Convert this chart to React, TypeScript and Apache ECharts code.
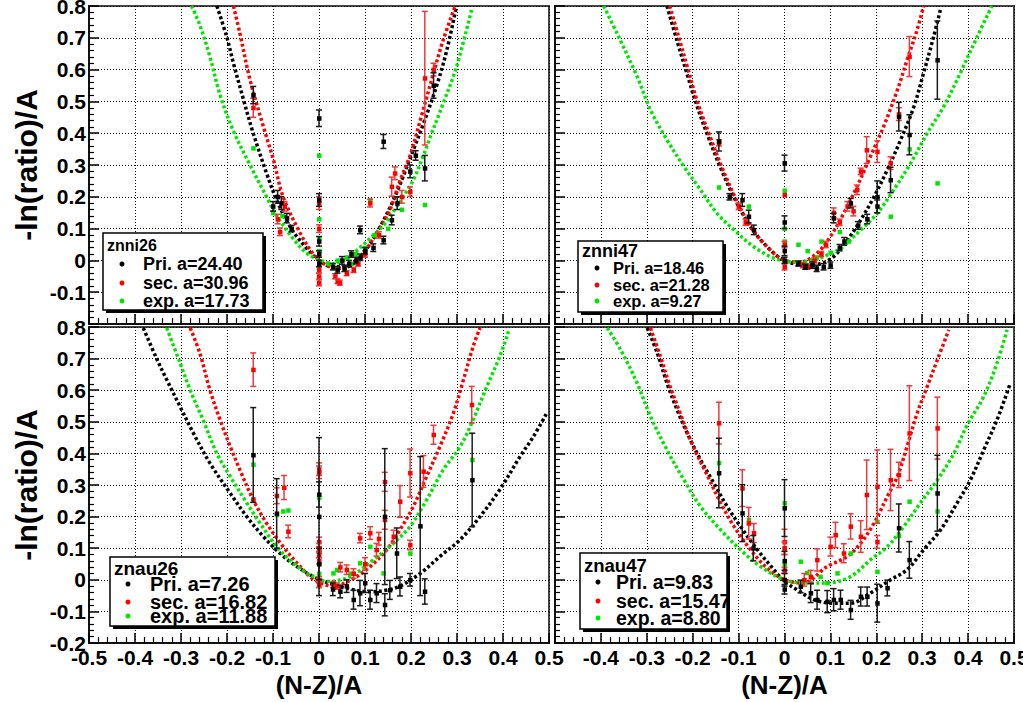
import React, { useEffect, useRef } from "react";
import * as echarts from "echarts";

const FONT = "Liberation Sans, Arial, sans-serif";
const BLACK = "#000000";
const RED = "#ff0000";
const GREEN = "#00e600";

// x ticks / y ticks
const xRange = [-0.5, 0.5];
const yRange = [-0.2, 0.8];

// ---------- Panel 1: znni26 ----------
const p1Name = "znni26";
const p1Labels = ["Pri. a=24.40", "sec. a=30.96", "exp. a=17.73"];
const p1PriCurve = [[-0.222,0.8],[-0.2,0.7],[-0.186,0.62],[-0.165,0.51],[-0.143,0.4],[-0.114,0.274],[-0.092,0.19],[-0.063,0.106],[-0.027,0.038],[0,0.0],[0.03,-0.02],[0.06,-0.02],[0.09,0.01],[0.11,0.05],[0.133,0.106],[0.162,0.19],[0.183,0.264],[0.205,0.347],[0.227,0.43],[0.256,0.55],[0.278,0.662],[0.299,0.8]];
const p1SecCurve = [[-0.186,0.8],[-0.172,0.714],[-0.15,0.568],[-0.121,0.421],[-0.099,0.316],[-0.078,0.2],[-0.041,0.086],[-0.015,0.025],[0.01,-0.01],[0.04,-0.025],[0.07,-0.015],[0.1,0.03],[0.125,0.086],[0.154,0.159],[0.176,0.25],[0.198,0.33],[0.22,0.44],[0.249,0.589],[0.27,0.693],[0.296,0.8]];
const p1ExpCurve = [[-0.277,0.8],[-0.259,0.74],[-0.237,0.64],[-0.215,0.52],[-0.187,0.41],[-0.15,0.3],[-0.114,0.2],[-0.092,0.14],[-0.056,0.068],[-0.027,0.023],[0,0.002],[0.03,-0.01],[0.06,0.005],[0.089,0.04],[0.115,0.075],[0.14,0.11],[0.162,0.155],[0.183,0.2],[0.205,0.253],[0.227,0.33],[0.241,0.385],[0.27,0.494],[0.299,0.609],[0.332,0.79]];
const p1PriPts = [[-0.143,0.52,0.027],[-0.1,0.17,0.015],[-0.09,0.2,0.02],[-0.082,0.18,0.02],[-0.07,0.133,0.015],[-0.06,0.1,0.01],[0,0.447,0.026],[0,0.19,0.02],[0,0.06,0.015],[0,0.02,0.01],[0,-0.01,0.01],[0.03,-0.02,0.01],[0.04,-0.03,0.01],[0.05,0.0,0.012],[0.055,-0.025,0.01],[0.065,-0.01,0.01],[0.07,0.02,0.01],[0.08,0.0,0.01],[0.09,0.01,0.01],[0.089,0.096,0.012],[0.1,0.03,0.01],[0.118,0.04,0.012],[0.14,0.064,0.012],[0.14,0.374,0.022],[0.158,0.127,0.015],[0.17,0.18,0.02],[0.198,0.28,0.02],[0.21,0.33,0.015],[0.23,0.29,0.04],[0.249,0.55,0.04]];
const p1SecPts = [[-0.143,0.48,0.03],[-0.09,0.13,0.015],[-0.085,0.09,0.012],[-0.075,0.17,0.015],[0,0.18,0.02],[0,0.1,0.012],[0,-0.03,0.01],[0,-0.05,0.01],[0,-0.07,0.01],[0.035,-0.05,0.008],[0.04,-0.065,0.008],[0.045,-0.07,0.008],[0.06,-0.04,0.008],[0.075,-0.03,0.008],[0.085,-0.01,0.008],[0.1,0.02,0.01],[0.111,0.18,0.012],[0.13,0.08,0.01],[0.158,0.232,0.03],[0.165,0.274,0.02],[0.18,0.2,0.02],[0.198,0.216,0.015],[0.23,0.573,0.21],[0.249,0.6,0.02]];
const p1ExpPts = [[-0.143,0.353,0],[-0.1,0.15,0],[-0.08,0.14,0],[0,0.33,0],[0,0.13,0],[0,0.07,0],[0,0.03,0],[0.02,-0.01,0],[0.04,0.0,0],[0.06,0.01,0],[0.07,-0.01,0],[0.08,0.02,0],[0.1,0.04,0],[0.111,0.19,0],[0.12,0.08,0],[0.15,0.1,0],[0.18,0.16,0],[0.23,0.175,0]];

// ---------- Panel 2: znni47 ----------
const p2Name = "znni47";
const p2Labels = ["Pri. a=18.46", "sec. a=21.28", "exp. a=9.27"];
const p2PriCurve = [[-0.256,0.8],[-0.234,0.69],[-0.212,0.585],[-0.194,0.5],[-0.168,0.395],[-0.139,0.29],[-0.11,0.198],[-0.074,0.106],[-0.038,0.043],[0,0.0],[0.049,-0.015],[0.08,-0.01],[0.107,0.012],[0.137,0.064],[0.166,0.127],[0.195,0.2],[0.224,0.285],[0.253,0.379],[0.282,0.484],[0.303,0.589],[0.325,0.704],[0.34,0.79]];
const p2SecCurve = [[-0.25,0.8],[-0.23,0.7],[-0.21,0.6],[-0.19,0.5],[-0.165,0.4],[-0.137,0.295],[-0.108,0.2],[-0.074,0.106],[-0.038,0.043],[0,0.0],[0.035,-0.005],[0.071,0.023],[0.1,0.075],[0.129,0.148],[0.158,0.232],[0.187,0.326],[0.216,0.421],[0.246,0.536],[0.267,0.63],[0.289,0.725],[0.303,0.8]];
const p2ExpCurve = [[-0.394,0.8],[-0.365,0.714],[-0.321,0.578],[-0.292,0.473],[-0.256,0.379],[-0.219,0.295],[-0.183,0.222],[-0.147,0.148],[-0.11,0.096],[-0.067,0.043],[-0.023,0.007],[0.02,-0.005],[0.06,0.0],[0.09,0.015],[0.122,0.038],[0.166,0.096],[0.202,0.148],[0.238,0.222],[0.275,0.306],[0.311,0.4],[0.347,0.484],[0.383,0.589],[0.42,0.704],[0.452,0.8]];
const p2PriPts = [[-0.143,0.374,0.03],[-0.12,0.2,0.01],[-0.092,0.19,0.02],[-0.078,0.138,0.02],[-0.067,0.096,0.015],[0,0.306,0.025],[0,0.12,0.02],[0,0.03,0.015],[0,0.0,0.01],[0.03,-0.01,0.008],[0.045,-0.02,0.008],[0.06,-0.015,0.01],[0.07,-0.025,0.01],[0.085,-0.02,0.01],[0.1,-0.015,0.01],[0.107,0.133,0.015],[0.12,0.04,0.01],[0.13,0.06,0.012],[0.144,0.18,0.015],[0.16,0.11,0.012],[0.18,0.13,0.015],[0.202,0.2,0.05],[0.202,0.17,0.02],[0.231,0.253,0.04],[0.249,0.452,0.045],[0.272,0.395,0.063],[0.333,0.63,0.123]];
const p2SecPts = [[-0.143,0.37,0.01],[-0.1,0.17,0.01],[-0.085,0.12,0.01],[0,0.206,0],[0,0.05,0.01],[0,-0.02,0.01],[0.04,-0.015,0.008],[0.05,-0.02,0.008],[0.065,0.0,0.008],[0.08,0.02,0.008],[0.09,0.05,0.01],[0.107,0.15,0.015],[0.12,0.12,0.01],[0.137,0.17,0.015],[0.15,0.155,0.015],[0.158,0.222,0.015],[0.166,0.28,0.01],[0.179,0.347,0.042],[0.202,0.342,0.034],[0.231,0.306,0.02],[0.249,0.46,0.02],[0.272,0.641,0.063]];
const p2ExpPts = [[-0.143,0.23,0],[-0.078,0.17,0],[0,0.22,0],[0,0.1,0],[0,0.06,0],[0.03,0.05,0],[0.05,0.03,0],[0.06,0.0,0],[0.07,0.01,0],[0.08,0.06,0],[0.1,0.025,0],[0.12,0.09,0],[0.14,0.06,0],[0.231,0.138,0],[0.272,0.35,0],[0.333,0.243,0]];

// ---------- Panel 3: znau26 ----------
const p3Name = "znau26";
const p3Labels = ["Pri. a=7.26", "sec. a=16.82", "exp. a=11.88"];
const p3PriCurve = [[-0.382,0.797],[-0.353,0.7],[-0.331,0.633],[-0.302,0.548],[-0.273,0.464],[-0.237,0.369],[-0.193,0.274],[-0.157,0.2],[-0.121,0.137],[-0.085,0.084],[-0.048,0.042],[-0.012,0.01],[0.03,-0.015],[0.07,-0.03],[0.11,-0.038],[0.15,-0.032],[0.176,-0.02],[0.22,0.02],[0.263,0.074],[0.307,0.127],[0.35,0.2],[0.393,0.285],[0.437,0.39],[0.466,0.453],[0.495,0.527]];
const p3SecCurve = [[-0.28,0.797],[-0.259,0.717],[-0.237,0.6],[-0.215,0.506],[-0.193,0.422],[-0.172,0.348],[-0.143,0.253],[-0.114,0.179],[-0.078,0.105],[-0.041,0.042],[-0.01,0.0],[0.031,-0.02],[0.07,0.0],[0.11,0.04],[0.147,0.095],[0.176,0.158],[0.205,0.232],[0.234,0.327],[0.263,0.422],[0.292,0.527],[0.314,0.633],[0.335,0.738],[0.35,0.797]];
const p3ExpCurve = [[-0.331,0.797],[-0.302,0.686],[-0.28,0.6],[-0.252,0.506],[-0.222,0.4],[-0.193,0.327],[-0.157,0.243],[-0.128,0.179],[-0.092,0.105],[-0.056,0.053],[-0.02,0.016],[0.02,-0.005],[0.067,0.01],[0.118,0.063],[0.162,0.116],[0.198,0.169],[0.234,0.253],[0.27,0.348],[0.307,0.422],[0.335,0.506],[0.365,0.612],[0.393,0.707],[0.412,0.786]];
const p3PriPts = [[-0.143,0.395,0.15],[-0.092,0.21,0.11],[0,0.2,0.25],[0,0.27,0.04],[0,0.05,0.05],[0.03,-0.03,0.02],[0.046,-0.037,0.02],[0.06,-0.02,0.02],[0.075,-0.063,0.03],[0.089,-0.042,0.04],[0.1,-0.01,0.03],[0.111,-0.063,0.03],[0.125,-0.042,0.03],[0.143,0.2,0.215],[0.143,-0.079,0.035],[0.154,-0.032,0.03],[0.169,0.084,0.08],[0.176,-0.021,0.03],[0.198,0.0,0.02],[0.22,0.17,0.22],[0.23,-0.037,0.04],[0.333,0.316,0.148]];
const p3SecPts = [[-0.143,0.665,0.053],[-0.143,0.255,0],[-0.092,0.266,0.025],[-0.076,0.292,0.038],[-0.067,0.153,0.02],[0,0.35,0.02],[0,0.34,0.02],[0,0.12,0.015],[0,0.1,0.015],[0,0.08,0.01],[0,0.06,0.01],[0,0.0,0.01],[0,-0.015,0.01],[0.031,-0.015,0.01],[0.039,-0.02,0.01],[0.046,0.04,0.015],[0.06,0.032,0.015],[0.075,0.02,0.015],[0.089,0.132,0.015],[0.1,0.05,0.02],[0.111,0.148,0.02],[0.125,0.095,0.02],[0.13,0.13,0.02],[0.143,0.31,0.03],[0.143,0.19,0.03],[0.162,0.137,0.02],[0.176,0.248,0.05],[0.198,0.338,0.076],[0.198,0.11,0.015],[0.227,0.343,0.05],[0.249,0.459,0.03],[0.332,0.554,0.058]];
const p3ExpPts = [[-0.143,0.365,0],[-0.092,0.206,0],[-0.078,0.217,0],[-0.067,0.22,0],[0,0.26,0],[0,0.1,0],[0,0.09,0],[0,0.05,0],[0,0.02,0],[0.031,0.021,0],[0.039,0.032,0],[0.068,0.02,0],[0.089,0.053,0],[0.111,0.105,0],[0.14,0.021,0],[0.198,0.084,0],[0.333,0.38,0]];

// ---------- Panel 4: znau47 ----------
const p4Name = "znau47";
const p4Labels = ["Pri. a=9.83", "sec. a=15.47", "exp. a=8.80"];
const p4PriCurve = [[-0.299,0.797],[-0.277,0.717],[-0.256,0.622],[-0.234,0.538],[-0.212,0.464],[-0.183,0.38],[-0.154,0.306],[-0.125,0.232],[-0.096,0.169],[-0.059,0.095],[-0.023,0.032],[0,-0.005],[0.028,-0.032],[0.064,-0.063],[0.107,-0.074],[0.144,-0.074],[0.187,-0.042],[0.231,0.0],[0.267,0.032],[0.303,0.095],[0.34,0.158],[0.376,0.243],[0.405,0.316],[0.434,0.411],[0.463,0.506],[0.492,0.622]];
const p4SecCurve = [[-0.292,0.797],[-0.27,0.705],[-0.25,0.615],[-0.228,0.53],[-0.2,0.425],[-0.168,0.33],[-0.139,0.243],[-0.11,0.169],[-0.074,0.095],[-0.038,0.037],[0,0.0],[0.04,-0.01],[0.093,0.042],[0.137,0.074],[0.166,0.116],[0.195,0.179],[0.224,0.264],[0.246,0.327],[0.267,0.422],[0.289,0.527],[0.311,0.612],[0.333,0.696],[0.358,0.791]];
const p4ExpCurve = [[-0.386,0.797],[-0.357,0.728],[-0.321,0.622],[-0.292,0.517],[-0.256,0.411],[-0.219,0.316],[-0.183,0.232],[-0.139,0.158],[-0.096,0.095],[-0.052,0.042],[0,0.0],[0.05,-0.01],[0.093,-0.01],[0.144,0.01],[0.187,0.063],[0.224,0.105],[0.26,0.169],[0.296,0.243],[0.333,0.316],[0.369,0.4],[0.398,0.49],[0.434,0.58],[0.463,0.686],[0.485,0.791]];
const p4PriPts = [[-0.143,0.338,0.11],[-0.092,0.211,0.09],[-0.068,0.1,0.04],[0,0.227,0.09],[0,0.06,0.03],[0,0.0,0.02],[0,-0.03,0.015],[0.035,-0.021,0.02],[0.057,-0.042,0.03],[0.071,-0.063,0.03],[0.093,-0.069,0.035],[0.107,-0.063,0.035],[0.122,-0.063,0.03],[0.144,-0.095,0.03],[0.166,-0.053,0.03],[0.18,-0.053,0.03],[0.202,-0.074,0.06],[0.224,-0.026,0.025],[0.249,0.164,0.076],[0.272,0.063,0.058],[0.333,0.274,0.12]];
const p4SecPts = [[-0.143,0.496,0.066],[-0.092,0.29,0.058],[-0.078,0.179,0.05],[-0.067,0.148,0.03],[0,0.12,0.04],[0,0.1,0.02],[0,0.03,0.01],[0.043,0.0,0.02],[0.057,0.01,0.02],[0.071,0.063,0.035],[0.1,0.105,0.03],[0.111,0.142,0.04],[0.129,0.084,0.03],[0.144,0.169,0.04],[0.166,0.137,0.05],[0.179,0.269,0.11],[0.202,0.295,0.116],[0.202,0.12,0.02],[0.231,0.316,0.097],[0.249,0.332,0.04],[0.272,0.464,0.15],[0.333,0.48,0.098]];
const p4ExpPts = [[-0.143,0.37,0],[-0.078,0.19,0],[0,0.243,0],[0,0.1,0],[0,0.05,0],[0.035,0.058,0],[0.049,0.022,0],[0.078,0.01,0],[0.093,-0.01,0],[0.115,0.021,0],[0.144,0.084,0],[0.202,0.184,0],[0.202,0.026,0],[0.249,0.14,0],[0.272,0.248,0],[0.333,0.217,0]];

const panels = [
  { name: p1Name, labels: p1Labels, curves: [p1PriCurve, p1SecCurve, p1ExpCurve], pts: [p1PriPts, p1SecPts, p1ExpPts] },
  { name: p2Name, labels: p2Labels, curves: [p2PriCurve, p2SecCurve, p2ExpCurve], pts: [p2PriPts, p2SecPts, p2ExpPts] },
  { name: p3Name, labels: p3Labels, curves: [p3PriCurve, p3SecCurve, p3ExpCurve], pts: [p3PriPts, p3SecPts, p3ExpPts] },
  { name: p4Name, labels: p4Labels, curves: [p4PriCurve, p4SecCurve, p4ExpCurve], pts: [p4PriPts, p4SecPts, p4ExpPts] },
];

const layout = [
  { left: 89, top: 6, width: 460, height: 318, showX: false, showY: true, hideYMin: true, hideXMin: false },
  { left: 555, top: 6, width: 459, height: 318, showX: false, showY: false, hideYMin: false, hideXMin: false },
  { left: 89, top: 327, width: 460, height: 316, showX: true, showY: true, hideYMin: false, hideXMin: false },
  { left: 555, top: 327, width: 459, height: 316, showX: true, showY: false, hideYMin: false, hideXMin: true },
];

const legendBoxes = [
  { x: 103, y: 233, w: 160, h: 77, fs: 18, tfs: 16, titleY: 12, rows: [31, 50, 68], mx: 19, tx: 40 },
  { x: 578, y: 241, w: 145, h: 71, fs: 16.5, tfs: 18, titleY: 10, rows: [27, 44, 60], mx: 19, tx: 35 },
  { x: 110, y: 557, w: 165, h: 69, fs: 20, tfs: 19, titleY: 11, rows: [27, 45, 59], mx: 18, tx: 40 },
  { x: 580, y: 553, w: 147, h: 76, fs: 19.5, tfs: 18.5, titleY: 12, rows: [29, 48, 65], mx: 18, tx: 36 },
];

const colors = [BLACK, RED, GREEN];
const barColors = ["#1a1a1a", "#f03a3a", GREEN];

const fmt = (v: number) => {
  const r = Math.round(v * 10) / 10;
  return r === 0 ? "0" : String(r);
};

const makeRender = (color: string, barColor: string) => (params: any, api: any) => {
  const x = api.value(0);
  const y = api.value(1);
  const e = api.value(2);
  const p = api.coord([x, y]);
  const children: any[] = [];
  if (e > 0) {
    const t = api.coord([x, y + e]);
    const b = api.coord([x, y - e]);
    const st = { stroke: barColor, lineWidth: 1.5 };
    children.push({ type: "line", shape: { x1: p[0], y1: t[1], x2: p[0], y2: b[1] }, style: st });
    children.push({ type: "line", shape: { x1: p[0] - 3, y1: t[1], x2: p[0] + 3, y2: t[1] }, style: st });
    children.push({ type: "line", shape: { x1: p[0] - 3, y1: b[1], x2: p[0] + 3, y2: b[1] }, style: st });
  }
  children.push({ type: "rect", shape: { x: p[0] - 2, y: p[1] - 2, width: 4.5, height: 4.5 }, style: { fill: color } });
  return { type: "group", children };
};

function buildOption() {
  const grid: any[] = [];
  const xAxis: any[] = [];
  const yAxis: any[] = [];
  const series: any[] = [];
  const graphic: any[] = [];

  layout.forEach((L, i) => {
    grid.push({
      left: L.left, top: L.top, width: L.width, height: L.height,
      show: true, borderColor: "#444", borderWidth: 2, backgroundColor: "transparent",
      containLabel: false, outerBoundsMode: "none",
    });
    xAxis.push({
      type: "value", gridIndex: i, min: xRange[0], max: xRange[1], interval: 0.1,
      axisLine: { show: true, onZero: false, lineStyle: { color: "#111", width: 2 } },
      axisTick: { show: true, inside: true, length: 10, lineStyle: { color: "#000", width: 1.5 } },
      minorTick: { show: true, splitNumber: 5, length: 6, lineStyle: { color: "#000", width: 1.2 } },
      splitLine: { show: true, lineStyle: { color: "#000", width: 1, type: [1, 2] } },
      axisLabel: {
        show: L.showX, margin: 4, color: "#000", fontSize: 21, fontWeight: "bold", fontFamily: FONT,
        formatter: (v: number) => (L.hideXMin && Math.round(v * 10) === -5 ? "" : fmt(v)),
      },
      name: L.showX ? "(N-Z)/A" : "",
      nameLocation: "middle", nameGap: 29,
      nameTextStyle: { fontSize: 26, fontWeight: "bold", fontFamily: FONT, color: "#000" },
    });
    yAxis.push({
      type: "value", gridIndex: i, min: yRange[0], max: yRange[1], interval: 0.1,
      axisLine: { show: true, onZero: false, lineStyle: { color: "#111", width: 2 } },
      axisTick: { show: true, inside: true, length: 10, lineStyle: { color: "#000", width: 1.5 } },
      minorTick: { show: true, splitNumber: 5, length: 5, lineStyle: { color: "#000", width: 1.2 } },
      splitLine: { show: true, lineStyle: { color: "#000", width: 1, type: [1, 2] } },
      axisLabel: {
        show: L.showY, margin: 3, color: "#000", fontSize: 21, fontWeight: "bold", fontFamily: FONT,
        formatter: (v: number) => (L.hideYMin && Math.round(v * 10) === -2 ? "" : fmt(v)),
      },
      name: L.showY ? "-ln(ratio)/A" : "",
      nameLocation: "middle", nameGap: 48,
      nameTextStyle: { fontSize: 30, fontWeight: "bold", fontFamily: FONT, color: "#000" },
    });

    const P = panels[i];
    P.curves.forEach((c, k) => {
      series.push({
        type: "line", xAxisIndex: i, yAxisIndex: i, data: c, smooth: 0.35,
        showSymbol: false, symbol: "none", clip: true, z: 2, silent: true,
        lineStyle: { color: colors[k], width: 3.5, type: [3, 2.5], cap: "butt" },
      });
    });
    [2, 1, 0].forEach((k) => {
      series.push({
        type: "custom", xAxisIndex: i, yAxisIndex: i, coordinateSystem: "cartesian2d",
        data: P.pts[k], encode: { x: 0, y: 1 }, clip: true, z: 3, silent: true,
        renderItem: makeRender(colors[k], barColors[k]),
      });
    });

    const B = legendBoxes[i];
    graphic.push({ type: "rect", z: 100, shape: { x: B.x + 3, y: B.y + 3, width: B.w, height: B.h }, style: { fill: "#000" } });
    graphic.push({ type: "rect", z: 101, shape: { x: B.x, y: B.y, width: B.w, height: B.h }, style: { fill: "#fff", stroke: "#000", lineWidth: 1.5 } });
    graphic.push({
      type: "text", z: 102, x: B.x + 4, y: B.y + B.titleY,
      style: { text: P.name, fontSize: B.tfs, fontWeight: "bold", fontFamily: FONT, fill: "#000", verticalAlign: "middle", align: "left" },
    });
    P.labels.forEach((lab, k) => {
      graphic.push({ type: "circle", z: 102, shape: { cx: B.x + B.mx, cy: B.y + B.rows[k], r: 2.5 }, style: { fill: colors[k] } });
      graphic.push({
        type: "text", z: 102, x: B.x + B.tx, y: B.y + B.rows[k],
        style: { text: lab, fontSize: B.fs, fontWeight: "bold", fontFamily: FONT, fill: "#000", verticalAlign: "middle", align: "left" },
      });
    });
  });

  return {
    animation: false,
    backgroundColor: "#ffffff",
    grid, xAxis, yAxis, series, graphic,
  };
}

export default function App() {
  const ref = useRef<HTMLDivElement>(null);
  useEffect(() => {
    if (!ref.current) return;
    const chart = echarts.init(ref.current, null, { renderer: "svg" });
    chart.setOption(buildOption() as any);
    return () => chart.dispose();
  }, []);
  return (
    <div
      ref={ref}
      style={{ position: "fixed", left: 0, top: 0, width: 1023, height: 702, background: "#fff" }}
    />
  );
}
